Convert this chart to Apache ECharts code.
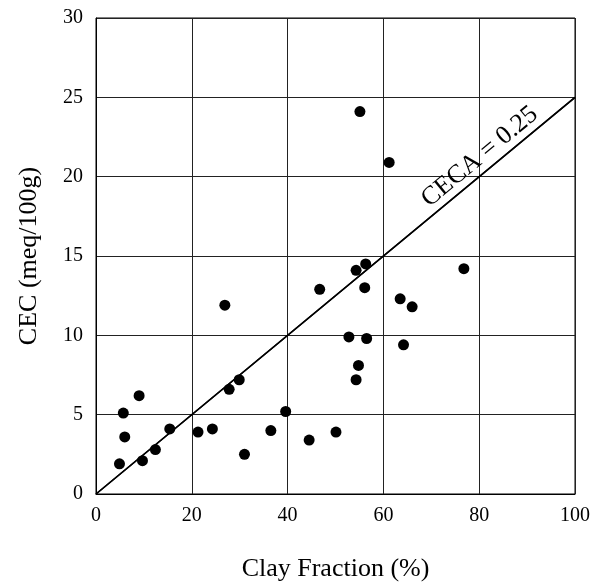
<!DOCTYPE html>
<html>
<head>
<meta charset="utf-8">
<script src="https://cdn.jsdelivr.net/npm/echarts@6/dist/echarts.min.js"></script>
<style>
  html, body { margin: 0; padding: 0; background: #fff; }
  #chart { width: 595px; height: 587px; }
</style>
</head>
<body>
<div id="chart"></div>
<script>
// Clay fraction (%) and cation exchange capacity (meq/100g) per sample
const clayFraction = [4.9, 5.7, 6.0, 9.0, 9.7, 12.4, 15.4, 21.3, 24.3, 26.9, 27.8, 29.9, 31.0, 36.5, 39.6,
  44.5, 46.7, 50.1, 52.8, 54.3, 54.3, 54.8, 55.1, 56.1, 56.3, 56.5, 61.2, 63.5, 64.2, 66.0, 76.8];
const cec = [1.9, 5.1, 3.6, 6.2, 2.1, 2.8, 4.1, 3.9, 4.1, 11.9, 6.6, 7.2, 2.5, 4.0, 5.2,
  3.4, 12.9, 3.9, 9.9, 7.2, 14.1, 8.1, 24.1, 13.0, 14.5, 9.8, 20.9, 12.3, 9.4, 11.8, 14.2];

// Reference activity line CEC = CECA * clay
const ceca = 0.25;
const refX = [0, 100];

const xTicks = [0, 20, 40, 60, 80, 100];
const yTicks = [0, 5, 10, 15, 20, 25, 30];

const font = '"Liberation Serif", "Times New Roman", serif';
const points = clayFraction.map((x, i) => [x, cec[i]]);

const chart = echarts.init(document.getElementById('chart'), null, { renderer: 'canvas' });
chart.setOption({
  animation: false,
  backgroundColor: '#fff',
  grid: { left: 96, top: 18, right: 20, bottom: 89, show: true, borderColor: '#000', borderWidth: 1 },
  xAxis: {
    type: 'value',
    min: xTicks[0], max: xTicks[xTicks.length - 1], interval: 20,
    name: 'Clay Fraction (%)', nameLocation: 'middle', nameGap: 62,
    nameTextStyle: { fontFamily: font, fontSize: 26, color: '#000' },
    axisLine: { lineStyle: { color: '#000', width: 1 } },
    axisTick: { show: false },
    axisLabel: { fontFamily: font, fontSize: 20, color: '#000', margin: 12 },
    splitLine: { lineStyle: { color: '#222', width: 1 } }
  },
  yAxis: {
    type: 'value',
    min: yTicks[0], max: yTicks[yTicks.length - 1], interval: 5,
    name: 'CEC (meq/100g)', nameLocation: 'middle', nameGap: 54,
    nameTextStyle: { fontFamily: font, fontSize: 26, color: '#000' },
    axisLine: { lineStyle: { color: '#000', width: 1 } },
    axisTick: { show: false },
    axisLabel: { fontFamily: font, fontSize: 20, color: '#000', margin: 13 },
    splitLine: { lineStyle: { color: '#222', width: 1 } }
  },
  series: [
    {
      type: 'line',
      data: refX.map(x => [x, x * ceca]),
      showSymbol: false,
      lineStyle: { color: '#000', width: 1.5 },
      silent: true,
      markLine: {
        symbol: 'none',
        silent: true,
        lineStyle: { color: '#000', width: 1.5, type: 'solid' },
        label: {
          show: true,
          position: 'insideEndTop',
          formatter: 'CECA = ' + ceca,
          fontFamily: font, fontSize: 26, color: '#000',
          distance: [40, 2]
        },
        data: [[{ coord: [refX[0], refX[0] * ceca] }, { coord: [refX[1], refX[1] * ceca] }]]
      }
    },
    {
      type: 'scatter',
      data: points,
      symbol: 'circle',
      symbolSize: 11,
      itemStyle: { color: '#000', opacity: 1 }
    }
  ]
});
</script>
</body>
</html>
